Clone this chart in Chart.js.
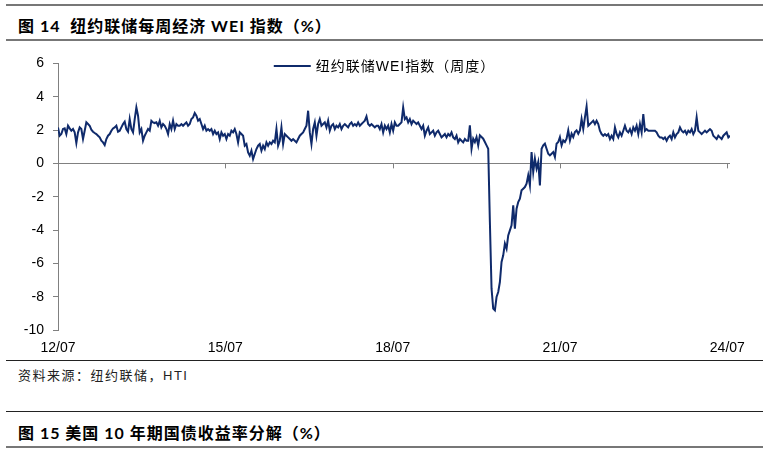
<!DOCTYPE html>
<html>
<head>
<meta charset="utf-8">
<script src="https://cdn.jsdelivr.net/npm/chart.js@4.4.1/dist/chart.umd.min.js"></script>
<style>
html, body { margin: 0; padding: 0; background: #fff; }
#page { position: relative; width: 769px; height: 456px; overflow: hidden; }
.rule { position: absolute; left: 6px; width: 757px; }
.title { position: absolute; left: 18px; line-height: 20px; font: bold 16px "Lato", "Noto Sans CJK SC", sans-serif; letter-spacing: 1px; color: #000; white-space: pre; }
#src { position: absolute; left: 18px; top: 365px; line-height: 16px; font: 13px "Liberation Sans", "Noto Sans CJK SC", sans-serif; letter-spacing: 1.5px; color: #222; }
#box { position: absolute; left: 0; top: 46px; width: 769px; height: 314px; }
</style>
</head>
<body>
<div id="page">
  <div class="rule" style="top:4px;height:2px;background:#777"></div>
  <div class="title" style="top:13px">图 14  纽约联储每周经济 WEI 指数（%）</div>
  <div class="rule" style="top:39px;height:2px;background:#777"></div>
  <div id="box"><canvas id="chart"></canvas></div>
  <div class="rule" style="top:360px;height:1px;background:#222"></div>
  <div id="src">资料来源：纽约联储，HTI</div>
  <div class="rule" style="top:411px;height:1px;background:#222"></div>
  <div class="title" style="top:420px">图 15 美国 10 年期国债收益率分解（%）</div>
  <div class="rule" style="top:446px;height:2px;background:#777"></div>
</div>
<script>
// NY Fed WEI (one value every ~1.5 weeks)
var seriesLabel = '纽约联储WEI指数（周度）';
var startYear = 2012.5;
var stepYears = 0.029895;

var wei2012to2015 = [
  2.16,1.66,1.76,2.06,2.1,1.76,2.26,2.1,1.96,2.06,
  1.86,1.22,1.86,2.16,2.06,1.46,1.96,2.46,2.36,2.26,
  2.02,1.9,1.82,1.76,1.66,1.56,1.36,1.26,1.1,1.46,
  1.66,1.76,1.96,2.1,2.16,2.26,1.9,1.96,2.16,2.36,
  2.5,2.06,1.9,2.66,2.06,1.86,2.66,3.36,2.86,1.86,
  2.06,1.36,1.66,1.86,2.06,1.96,2.56,2.46,2.42,2.46,
  2.26,2.56,2.16,2.36,2.26,2.06,1.76,2.36,2.06,2.56,
  2.06,2.36,2.26,2.26,2.36,2.26,2.36,2.46,2.26,2.36,
  2.66,2.76,3.02,2.86,2.56,2.66,2.36,2.06,2.26,1.96,
  2.06,1.96,2.06,1.76,1.96,1.76,1.86,1.46,1.86,1.66,
  1.76,1.46,1.76,1.66
];
var wei2015to2018 = [
  1.96,1.86,2.06,1.76,1.26,1.86,1.76,1.66,1.06,1.16,
  0.66,0.46,0.76,0.26,0.56,0.86,1.06,1.16,0.76,1.06,
  0.86,1.26,1.06,1.26,1.16,1.36,1.26,2.06,1.06,1.36,
  2.16,1.16,1.76,1.66,1.56,1.46,1.36,1.46,1.36,1.26,
  1.46,1.66,1.76,1.86,2.06,2.26,3.16,1.86,1.16,2.06,
  2.46,1.66,2.36,2.66,2.26,2.36,2.46,2.16,2.56,1.96,
  2.26,2.36,2.06,2.26,2.16,2.36,2.06,2.26,2.36,2.26,
  2.16,2.36,2.46,2.26,2.36,2.26,2.46,2.26,2.36,2.46,
  2.56,2.82,2.36,2.26,2.36,2.26,2.16,2.26,2.26,2.06,
  2.36,1.86,2.26,2.06,2.26,1.86,2.36,1.96,2.46,2.26,
  2.26,2.36
];
var wei2018to2019 = [
  2.46,3.36,2.66,2.76,2.46,2.66,2.36,2.56,2.46,2.36,
  2.46,2.26,2.06,2.26,1.66,1.96,2.16,1.76,1.86,1.96,
  1.66,1.86,1.96,1.76,1.56,1.66,1.76,1.56,1.76,1.66,
  1.86,1.56,1.46,1.66,1.26,1.46,1.36,1.26,1.46,1.36,
  1.36
];
var wei2020to2021 = [
  2.28,0.88,1.48,1.28,1.58,1.08,1.68,1.58,1.48,1.28,
  1.08,0.88,-3.52,-7.52,-8.72,-8.82,-8.02,-7.72,-7.12,-5.92,
  -5.52,-4.82,-5.12,-4.32,-4.02,-3.72,-2.52,-3.92,-2.72,-2.32,
  -2.12,-1.62,-1.52,-1.42,-1.22,-0.72,-1.32,0.68,-0.52,0.28,
  -0.32,0.08,-1.32,0.88,1.08,1.18,0.88,0.58,0.48,0.58,
  0.68,0.38,1.18,1.28,1.58,1.08,1.38,1.28,1.48,1.98,
  1.38,1.78,1.58,1.88,1.98,1.78,1.98,2.66,2.06,2.76,
  3.42,2.26,2.36
];
var wei2022to2024 = [
  2.46,2.56,2.36,2.56,2.36,1.96,1.76,1.66,1.76,1.66,
  1.76,1.46,1.66,1.46,2.16,1.76,1.56,1.86,1.66,1.96,
  2.26,1.96,1.86,2.06,1.76,2.16,1.96,2.26,1.76,2.36,
  1.86,2.96,1.96,2.06,1.96,1.96,1.96,1.96,1.96,1.86,
  1.66,1.56,1.56,1.46,1.56,1.36,1.56,1.66,1.46,1.86,
  1.56,1.76,1.86,2.16,1.96,1.86,1.96,1.76,1.96,1.86,
  2.06,1.76,1.96,2.76,1.96,1.86,1.76,1.86,1.96,1.86,
  1.96,2.06,1.96,1.66,1.56,1.46,1.66,1.56,1.46,1.66,
  1.76,1.86,1.56,1.66
];

var tickYears = [2012.5, 2015.5, 2018.5, 2021.5, 2024.5];
var tickLabels = ['12/07', '15/07', '18/07', '21/07', '24/07'];

var weiValues = [].concat(wei2012to2015, wei2015to2018, wei2018to2019, wei2020to2021, wei2022to2024);
var points = weiValues.map(function (v, i) { return { x: startYear + i * stepYears, y: v }; });
var endYear = points[points.length - 1].x;

var navy = '#0f2a6b';
var grey = '#808080';
var tickFont = { family: '"Liberation Sans", Arial, sans-serif', size: 14 };

// legend sits inside the plot, centred on the canvas
var legendLine = {
  id: 'legendLine',
  afterDraw: function (chart) {
    var c = chart.ctx, ds = chart.data.datasets[0];
    c.save();
    c.font = '14px "Liberation Sans", "Noto Sans CJK SC", sans-serif';
    c.letterSpacing = '1px';
    var tw = c.measureText(ds.label).width;
    var sw = 37, gap = 5;
    var x0 = (chart.width - (sw + gap + tw)) / 2, y = 20;
    c.strokeStyle = ds.borderColor;
    c.lineWidth = 2;
    c.beginPath(); c.moveTo(x0, y); c.lineTo(x0 + sw, y); c.stroke();
    c.fillStyle = '#000';
    c.textBaseline = 'middle';
    c.fillText(ds.label, x0 + sw + gap, y + 1);
    c.restore();
  }
};

// small tick marks hanging from the zero line at each date label
var zeroTicks = {
  id: 'zeroTicks',
  beforeDatasetsDraw: function (chart) {
    var xs = chart.scales.x, ys = chart.scales.y, c = chart.ctx;
    var y0 = ys.getPixelForValue(0);
    c.save();
    c.strokeStyle = grey;
    c.lineWidth = 1;
    xs.ticks.forEach(function (t) {
      var px = Math.round(xs.getPixelForValue(t.value)) + 0.5;
      c.beginPath(); c.moveTo(px, y0); c.lineTo(px, y0 + 5); c.stroke();
    });
    c.restore();
  }
};

var chart = new Chart(document.getElementById('chart'), {
  type: 'line',
  data: {
    datasets: [{
      label: seriesLabel,
      data: points,
      borderColor: navy,
      backgroundColor: navy,
      borderWidth: 2,
      pointRadius: 0,
      tension: 0,
      fill: false
    }]
  },
  options: {
    responsive: true,
    maintainAspectRatio: false,
    animation: false,
    layout: { padding: { top: 16, right: 39, left: 0, bottom: 0 } },
    plugins: { legend: { display: false }, tooltip: { enabled: false } },
    scales: {
      x: {
        type: 'linear',
        min: startYear,
        max: endYear,
        afterBuildTicks: function (s) { s.ticks = tickYears.map(function (v) { return { value: v }; }); },
        afterFit: function (s) { s.height = 30; },
        grid: { display: false, drawTicks: false },
        border: { display: false },
        ticks: {
          autoSkip: false, maxRotation: 0, padding: 10, color: '#000', font: tickFont,
          callback: function (v, i) { return tickLabels[i]; }
        }
      },
      y: {
        min: -10,
        max: 6,
        afterFit: function (s) { s.width = 58; },
        ticks: { stepSize: 2, padding: 9, color: '#000', font: tickFont },
        grid: {
          color: function (c) { return c.tick && c.tick.value === 0 ? grey : 'rgba(0,0,0,0)'; },
          tickColor: grey,
          tickLength: 5,
          lineWidth: 1
        },
        border: { display: true, color: grey, width: 1 }
      }
    }
  },
  plugins: [legendLine, zeroTicks]
});
</script>
</body>
</html>
